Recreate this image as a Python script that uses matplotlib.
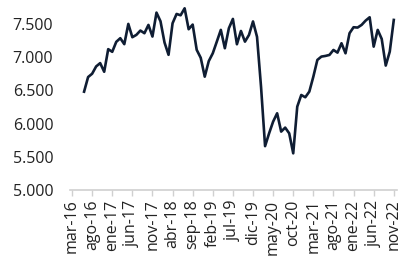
import matplotlib
matplotlib.use("Agg")
import matplotlib.pyplot as plt
from matplotlib.ticker import FuncFormatter

# monthly series, jun-16 .. nov-22 (month index 0 = mar-16)
start_month = 3
values = [
    6480, 6700, 6750, 6860, 6910, 6780, 7120, 7080, 7230, 7285,
    7195, 7500, 7300, 7335, 7400, 7360, 7485, 7310, 7670, 7540,
    7220, 7035, 7510, 7650, 7630, 7735, 7420, 7490, 7110, 6990,
    6706, 6940, 7058, 7233, 7410, 7134, 7435, 7575, 7194, 7394,
    7233, 7334, 7537, 7305, 6550, 5660, 5853, 6029, 6155, 5879,
    5939, 5853, 5552, 6255, 6430, 6396, 6481, 6706, 6958, 7008,
    7018, 7033, 7108, 7068, 7209, 7058, 7360, 7450, 7445, 7485,
    7550, 7600, 7158, 7410, 7274, 6873, 7083, 7560,
]
tick_labels = ["mar-16", "ago-16", "ene-17", "jun-17", "nov-17", "abr-18",
               "sep-18", "feb-19", "jul-19", "dic-19", "may-20", "oct-20",
               "mar-21", "ago-21", "ene-22", "jun-22", "nov-22"]
y_ticks = [5000, 5500, 6000, 6500, 7000, 7500]

plt.rcParams['font.family'] = ['Open Sans', 'DejaVu Sans']

fig = plt.figure(figsize=(4.07, 2.65), dpi=100)
ax = fig.add_axes([70 / 407, 75 / 265, 327 / 407, 190 / 265])

months = list(range(start_month, start_month + len(values)))
ax.plot(months, values, color='#0f1d33', linewidth=1.9, solid_joinstyle='round')

ax.set_xlim(-0.5, 80.8)
ax.set_ylim(5000, 7860)
ax.set_xticks(range(0, 5 * len(tick_labels), 5))
ax.set_xticklabels(tick_labels, rotation=90, fontsize=11.5, color='#222222')
ax.set_yticks(y_ticks)
ax.yaxis.set_major_formatter(FuncFormatter(lambda v, p: f"{int(v):,}".replace(",", ".")))
ax.tick_params(axis='y', length=0, labelsize=11.5, labelcolor='#222222', pad=12)
ax.tick_params(axis='x', length=4, color='#d0d0d0', width=1, pad=3)

for s in ['top', 'right', 'left']:
    ax.spines[s].set_visible(False)
ax.spines['bottom'].set_color('#d0d0d0')
ax.spines['bottom'].set_linewidth(1.2)

fig.savefig('out.png', dpi=100)
